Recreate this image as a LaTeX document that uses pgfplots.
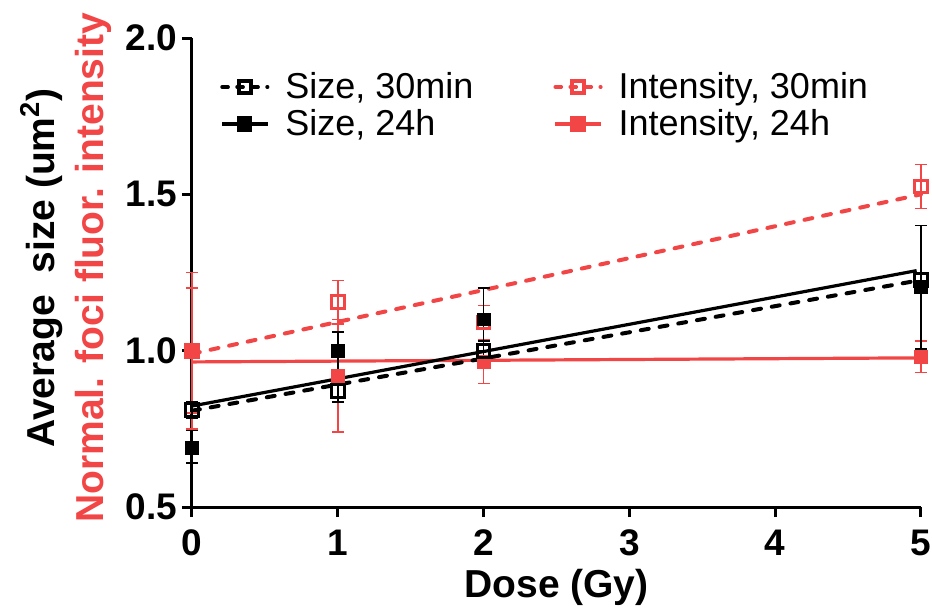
\documentclass[border=0pt]{standalone}
\usepackage{fontspec}
\setmainfont{Liberation Sans}
\usepackage{pgfplots}
\pgfplotsset{compat=1.18}
\definecolor{intRed}{HTML}{F24545}
\begin{document}
\begin{tikzpicture}
\useasboundingbox (-96pt,-52pt) rectangle (370pt,253.5pt);
\begin{axis}[
  at={(0,0)}, anchor=south west,
  scale only axis, width=364.5pt, height=234.5pt,
  xmin=0, xmax=5, ymin=0.5, ymax=2.0,
  xtick={0,1,2,3,4,5}, ytick={0.5,1.0,1.5,2.0},
  yticklabels={0.5,1.0,1.5,2.0},
  axis lines=left, axis line style={line width=1.5pt,-},
  tick style={line width=1.5pt,black},
  major tick length=5pt, tick align=outside,
  tick label style={font=\fontsize{18.5}{20}\selectfont\bfseries},
  yticklabel style={xshift=1pt},
  xticklabel style={yshift=-3pt},
  /pgf/number format/assume math mode=true,
  xlabel={Dose (Gy)},
  ylabel={Average\ \ size (um\textsuperscript{2})\\\textcolor{intRed}{Normal. foci fluor. intensity}},
  label style={font=\fontsize{19.5}{24.5}\selectfont\bfseries},
  xlabel style={at={(axis description cs:0.5,0)},anchor=center,yshift=-40pt},
  ylabel style={at={(axis description cs:-0.173,0.51)},anchor=center,align=center},
  clip=false,
  legend columns=2,
  legend cell align=left,
  legend style={draw=none,fill=none,at={(axis description cs:0.03,1)},anchor=north west,
    yshift=-13pt,font=\fontsize{18}{24}\selectfont,
    /tikz/every odd column/.append style={column sep=6pt},
    /tikz/every even column/.append style={column sep=38pt}},
  legend image code/.code={\draw[mark repeat=2,mark phase=2]
    plot coordinates {(0cm,0cm) (0.4cm,0cm) (0.8cm,0cm)};},
]
% legend
\addlegendimage{black,line width=1.8pt,line cap=round,dash pattern=on 3pt off 4.5pt,mark=square,mark size=3pt,mark options={solid,fill=white}}
\addlegendentry{Size, 30min}
\addlegendimage{intRed,line width=1.8pt,line cap=round,dash pattern=on 3pt off 4.5pt,mark=square,mark size=3pt,mark options={solid,fill=white}}
\addlegendentry{Intensity, 30min}
\addlegendimage{black,line width=1.6pt,mark=square*,mark size=3pt}
\addlegendentry{Size, 24h}
\addlegendimage{intRed,line width=1.6pt,mark=square*,mark size=3pt}
\addlegendentry{Intensity, 24h}

% fit lines
\addplot[intRed,line width=1.6pt,forget plot] coordinates {(0,0.964) (5,0.977)};
\addplot[intRed,line width=2pt,line cap=round,dash pattern=on 4pt off 5.5pt,forget plot] coordinates {(0,0.99) (5,1.50)};
\addplot[black,line width=1.6pt,forget plot] coordinates {(0,0.823) (4.97,1.256)};
\addplot[black,line width=2pt,line cap=round,dash pattern=on 4pt off 5.5pt,forget plot] coordinates {(0,0.808) (5,1.226)};

% intensity, 24h
\addplot[only marks,intRed,mark=square*,mark size=3.2pt,forget plot,
  error bars/.cd,y dir=both,y explicit,
  error bar style={line width=0.8pt},
  error mark options={rotate=90,mark size=3pt,line width=0.8pt}]
  coordinates {(0,1.0) +- (0,0.2) (1,0.92) +- (0,0.18) (2,0.965) +- (0,0.07) (5,0.98) +- (0,0.05)};
% intensity, 30min
\addplot[only marks,intRed,mark=square,mark size=3.2pt,mark options={line width=1.5pt,fill=white},forget plot,
  error bars/.cd,y dir=both,y explicit,
  error bar style={line width=0.8pt},
  error mark options={rotate=90,mark size=3pt,line width=0.8pt}]
  coordinates {(0,1.0) +- (0,0.25) (1,1.155) +- (0,0.07) (2,1.09) +- (0,0.055) (5,1.525) +- (0,0.07)};
% size, 24h
\addplot[only marks,black,mark=square*,mark size=3.2pt,forget plot,
  error bars/.cd,y dir=both,y explicit,
  error bar style={line width=0.8pt},
  error mark options={rotate=90,mark size=3pt,line width=0.8pt}]
  coordinates {(0,0.69) += (0,0.055) -= (0,0.05) (1,1.0) +- (0,0.06) (2,1.10) +- (0,0.10) (5,1.205) += (0,0.195) -= (0,0.2)};
% size, 30min
\addplot[only marks,black,mark=square,mark size=3.2pt,mark options={line width=1.5pt,fill=white},forget plot,
  error bars/.cd,y dir=both,y explicit,
  error bar style={line width=0.8pt},
  error mark options={rotate=90,mark size=3pt,line width=0.8pt}]
  coordinates {(0,0.81) +- (0,0.025) (1,0.87) +- (0,0.035) (2,1.0) +- (0,0.03) (5,1.225) +- (0,0.02)};
\end{axis}
\end{tikzpicture}
\end{document}
